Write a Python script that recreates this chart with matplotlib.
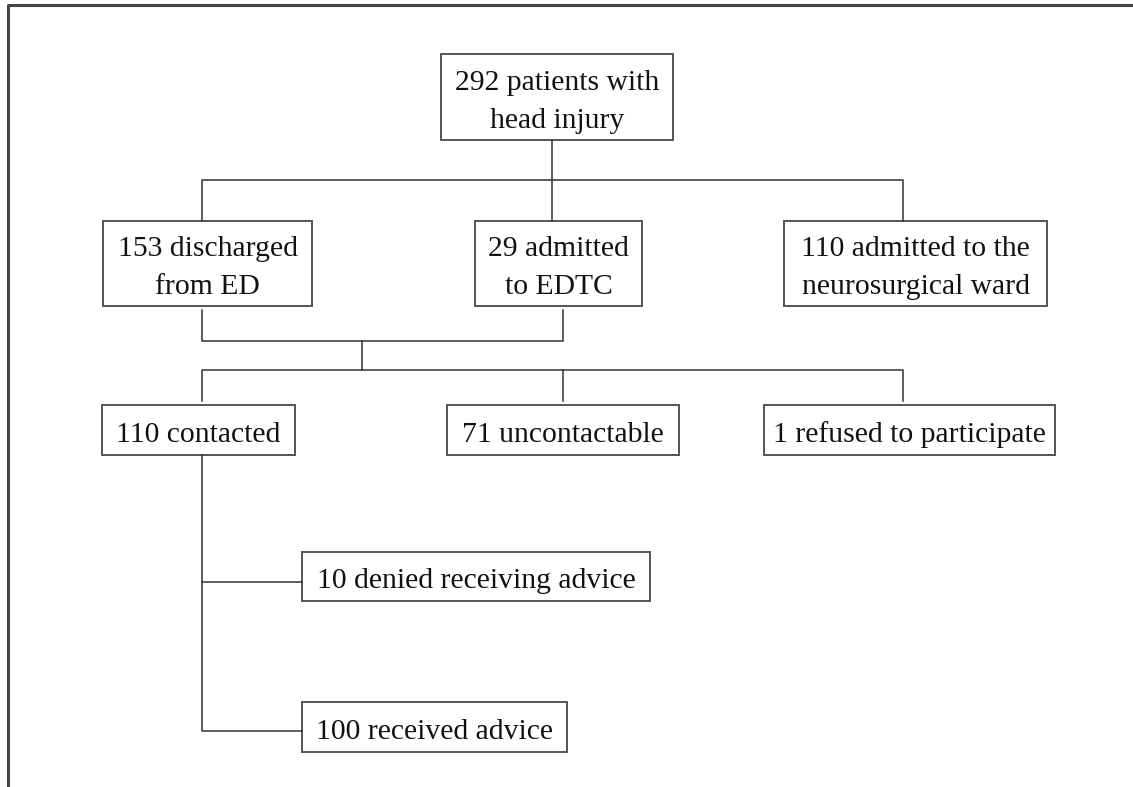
import matplotlib.pyplot as plt
from matplotlib.patches import Rectangle

# flowchart content
counts = [292, 153, 29, 110, 110, 71, 1, 10, 100]
labels = ['patients with\nhead injury', 'discharged\nfrom ED', 'admitted\nto EDTC',
          'admitted to the\nneurosurgical ward', 'contacted', 'uncontactable',
          'refused to participate', 'denied receiving advice', 'received advice']

# box layout in pixels: left, top, right, bottom
boxes = [(441, 54, 673, 140), (103, 221, 312, 306), (475, 221, 642, 306),
         (784, 221, 1047, 306), (102, 405, 295, 455), (447, 405, 679, 455),
         (764, 405, 1055, 455), (302, 552, 650, 601), (302, 702, 567, 752)]

# connector polylines (pixels)
links = [
    [(552, 140), (552, 221)],
    [(202, 221), (202, 180), (903, 180), (903, 221)],
    [(202, 310), (202, 341), (563, 341), (563, 310)],
    [(362, 341), (362, 370)],
    [(202, 401), (202, 370), (903, 370), (903, 401)],
    [(563, 370), (563, 401)],
    [(202, 455), (202, 731), (302, 731)],
    [(202, 582), (302, 582)],
]

plt.rcParams['font.family'] = ['Liberation Serif', 'DejaVu Serif']

fig = plt.figure(figsize=(11.33, 7.87), dpi=100)
ax = fig.add_axes([0, 0, 1, 1])
ax.set_xlim(0, 1133)
ax.set_ylim(787, 0)
ax.axis('off')

# outer frame: top and left only
ax.plot([8, 8, 1133], [787, 5, 5], color='#444444', lw=2.2, solid_capstyle='butt')

for (x0, y0, x1, y1), n, lab in zip(boxes, counts, labels):
    ax.add_patch(Rectangle((x0, y0), x1 - x0, y1 - y0, fill=False,
                           edgecolor='#555555', lw=1.4))
    first, *rest = lab.split('\n')
    txt = '\n'.join([f'{n} {first}'] + rest)
    ax.text((x0 + x1) / 2, (y0 + y1) / 2 + 5, txt, ha='center', va='center',
            fontsize=21.3, color='#111111', linespacing=1.6)

for pts in links:
    xs, ys = zip(*pts)
    ax.plot(xs, ys, color='#333333', lw=1.1)

fig.savefig('out.png', dpi=100)
